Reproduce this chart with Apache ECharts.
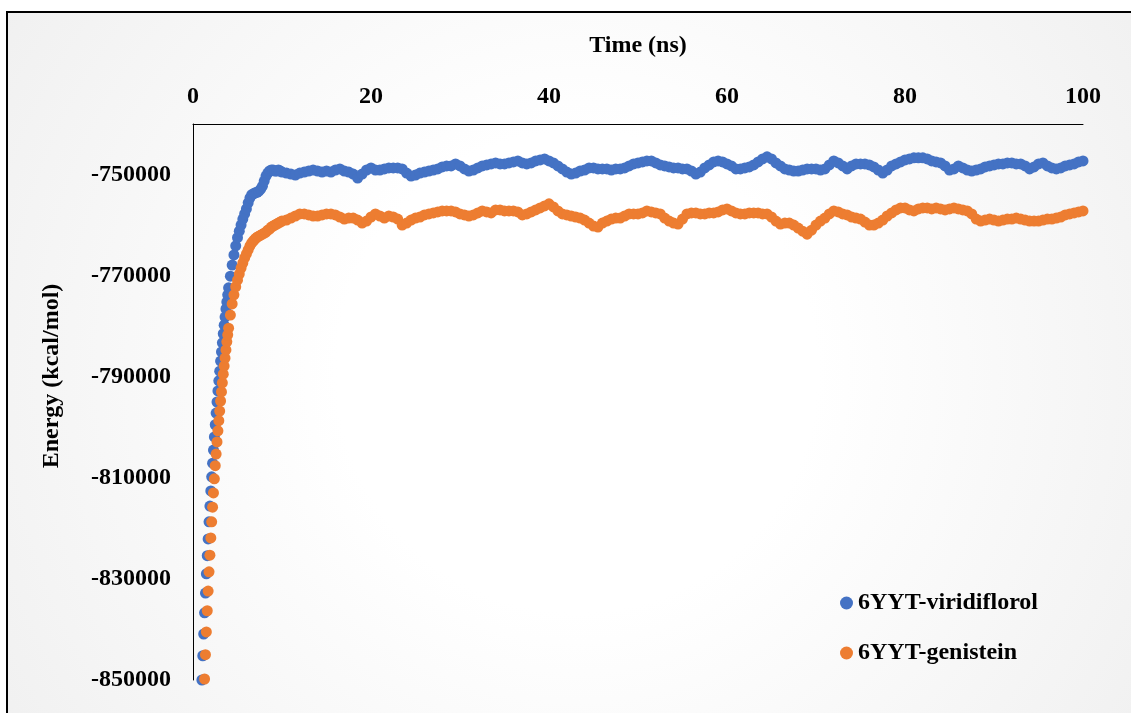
<!DOCTYPE html>
<html>
<head>
<meta charset="utf-8">
<script src="https://cdn.jsdelivr.net/npm/echarts@6/dist/echarts.min.js"></script>
<style>html,body{margin:0;padding:0;background:#fff;}#chart{width:1131px;height:713px;}</style>
</head>
<body>
<div id="chart"></div>
<script>
// Time (ns)
const timeNs = [
  1.0,1.1,1.2,1.3,1.4,1.5,1.6,1.7,1.8,1.9,2.0,2.1,2.2,2.3,2.4,2.5,2.6,2.7,2.8,2.9,3.0,3.1,3.2,3.3,3.4,3.5,3.6,3.7,3.8,3.9,4.0,
  4.2,4.4,4.6,4.8,5.0,5.2,5.4,5.6,5.8,6.0,6.2,6.4,6.6,6.8,7.0,7.2,7.4,7.6,7.8,8.0,8.2,8.4,8.6,8.8,9.0,9.2,9.4,9.6,9.8,10.0,
  10.5,11,11.5,12,12.5,13,13.5,14,14.5,15,
  15.5,16,16.5,17,17.5,18,18.5,19,19.5,20,
  20.5,21,21.5,22,22.5,23,23.5,24,24.5,25,
  25.5,26,26.5,27,27.5,28,28.5,29,29.5,30,
  30.5,31,31.5,32,32.5,33,33.5,34,34.5,35,
  35.5,36,36.5,37,37.5,38,38.5,39,39.5,40,
  40.5,41,41.5,42,42.5,43,43.5,44,44.5,45,
  45.5,46,46.5,47,47.5,48,48.5,49,49.5,50,
  50.5,51,51.5,52,52.5,53,53.5,54,54.5,55,
  55.5,56,56.5,57,57.5,58,58.5,59,59.5,60,
  60.5,61,61.5,62,62.5,63,63.5,64,64.5,65,
  65.5,66,66.5,67,67.5,68,68.5,69,69.5,70,
  70.5,71,71.5,72,72.5,73,73.5,74,74.5,75,
  75.5,76,76.5,77,77.5,78,78.5,79,79.5,80,
  80.5,81,81.5,82,82.5,83,83.5,84,84.5,85,
  85.5,86,86.5,87,87.5,88,88.5,89,89.5,90,
  90.5,91,91.5,92,92.5,93,93.5,94,94.5,95,
  95.5,96,96.5,97,97.5,98,98.5,99,99.5,100
];

// Energy (kcal/mol) - 6YYT-viridiflorol
const viridiflorol = [
  -850000,-845200,-840900,-836700,-832800,-829000,-825400,-822100,-818700,-815600,-812600,-809800,-807100,-804500,-801900,-799500,-797200,-795000,-792800,-790800,-788900,-786900,-785100,-783300,-781500,-779800,-778200,-776600,-775200,-773800,-772400,
  -770100,-767900,-765900,-764100,-762500,-761200,-760000,-758800,-757800,-756800,-755600,-754600,-754000,-753800,-753600,-753500,-753300,-752900,-752300,-751300,-750300,-749700,-749300,-749100,-749100,-749300,-749300,-749100,-749300,-749500,
  -749700,-749900,-750100,-749700,-749500,-749300,-749100,-749300,-749500,-749300,
  -749500,-749100,-748900,-749300,-749500,-749900,-750700,-749900,-749100,-748700,
  -749100,-749100,-748900,-748700,-748700,-748700,-748900,-749700,-750300,-750100,
  -749700,-749500,-749300,-749100,-748900,-748500,-748300,-748300,-747900,-748300,
  -748900,-749300,-749100,-748700,-748300,-748100,-747900,-747700,-747900,-747900,
  -747700,-747500,-747300,-747700,-747900,-747700,-747300,-747100,-746900,-747300,
  -747700,-748300,-748900,-749500,-749900,-749700,-749300,-749100,-748700,-748700,
  -748900,-748900,-748900,-749100,-748900,-748900,-748700,-748300,-747900,-747700,
  -747500,-747300,-747300,-747700,-748100,-748300,-748500,-748700,-748700,-748900,
  -748900,-749300,-749900,-749500,-748700,-748100,-747500,-747300,-747500,-747900,
  -748300,-748900,-748900,-748700,-748500,-748100,-747500,-746900,-746500,-746900,
  -747700,-748300,-748900,-749100,-749300,-749300,-749100,-748900,-748900,-748900,
  -749100,-748900,-748100,-747300,-747700,-748300,-748900,-748300,-747900,-747900,
  -747900,-748100,-748500,-749100,-749700,-749100,-748300,-747900,-747500,-747100,
  -746900,-746700,-746700,-746700,-746900,-747300,-747500,-747700,-748300,-749100,
  -748900,-748300,-748700,-749100,-749300,-749100,-748900,-748500,-748300,-748100,
  -747900,-747900,-747700,-747700,-747900,-747900,-748300,-748900,-748500,-747900,
  -747700,-748300,-748700,-748900,-748700,-748300,-748100,-747900,-747500,-747300
];

// Energy (kcal/mol) - 6YYT-genistein (first samples lie below the axis range)
const genistein = [
  null,null,null,-849800,-845000,-840500,-836300,-832400,-828600,-825300,-821900,-818700,-815800,-813000,-810200,-807600,-805300,-802900,-800700,-798700,-796800,-794800,-793000,-791200,-789500,-787900,-786300,-784700,-783100,-781700,-780400,
  -777800,-775600,-773800,-772200,-770900,-769700,-768500,-767500,-766500,-765700,-764900,-764100,-763500,-763100,-762700,-762400,-762200,-762000,-761800,-761600,-761400,-761000,-760800,-760400,-760200,-760000,-759800,-759600,-759400,-759200,
  -759000,-758600,-758200,-757800,-757800,-758000,-758200,-758200,-758000,-757800,
  -757800,-758000,-758400,-758800,-758600,-758600,-759000,-759600,-759200,-758400,
  -757800,-758200,-758600,-758200,-758400,-758800,-760000,-759600,-759000,-758600,
  -758400,-758000,-757800,-757600,-757400,-757200,-757200,-757200,-757400,-757800,
  -758000,-758200,-758000,-757600,-757200,-757400,-757600,-757000,-757000,-757200,
  -757200,-757200,-757400,-758000,-757800,-757400,-757000,-756600,-756200,-755800,
  -756400,-757200,-757800,-758000,-758200,-758400,-758600,-759000,-759600,-760200,
  -760400,-759600,-759200,-758800,-758600,-758600,-758200,-757800,-757800,-757800,
  -757600,-757200,-757400,-757600,-757800,-758600,-759200,-759600,-759800,-758800,
  -757800,-757600,-757600,-757800,-757800,-757600,-757600,-757400,-757000,-756800,
  -757200,-757600,-757800,-757800,-757600,-757600,-757600,-757800,-757800,-758400,
  -759200,-759800,-759600,-759600,-760000,-760600,-761200,-761800,-761000,-760000,
  -759200,-758600,-757800,-757200,-757400,-757800,-758000,-758400,-758600,-758800,
  -759400,-760000,-760000,-759600,-759000,-758200,-757600,-757000,-756600,-756600,
  -757000,-757200,-756800,-756600,-756600,-756800,-756600,-756800,-757000,-756800,
  -756600,-756800,-757000,-757200,-757800,-758800,-759200,-759000,-758800,-759000,
  -759200,-759000,-758800,-758800,-758600,-758800,-759000,-759200,-759200,-759200,
  -759000,-758800,-758800,-758600,-758400,-758000,-757800,-757600,-757400,-757200
];

const seriesNames = ['6YYT-viridiflorol', '6YYT-genistein'];
const yTickValues = [-850000, -830000, -810000, -790000, -770000, -750000];
const xAxisTitle = 'Time (ns)';
const yAxisTitle = 'Energy (kcal/mol)';

const FONT = "'Times New Roman', 'Liberation Serif', serif";
const FS = 24;

const pairs = (ys) => timeNs.map((t, i) => [t, ys[i]]).filter(p => p[1] !== null);

const chart = echarts.init(document.getElementById('chart'), null, {renderer: 'canvas'});
chart.setOption({
  backgroundColor: '#ffffff',
  animation: false,
  graphic: [
    {
      type: 'rect', z: -10, silent: true,
      shape: {x: 7, y: 12, width: 1140, height: 720},
      style: {
        fill: new echarts.graphic.RadialGradient(0.5, 0.5, 0.95, [
          {offset: 0, color: '#ffffff'},
          {offset: 0.35, color: '#ffffff'},
          {offset: 1, color: '#f0f0f0'}
        ]),
        stroke: '#000000', lineWidth: 2
      }
    },
    {
      type: 'text', z: 10, silent: true,
      x: 52, y: 376, rotation: Math.PI / 2,
      style: {
        text: yAxisTitle, fill: '#000',
        font: 'bold ' + FS + 'px ' + FONT,
        textAlign: 'center', textVerticalAlign: 'middle'
      }
    }
  ],
  grid: {left: 193, right: 48, top: 124, bottom: 33, containLabel: false},
  legend: {
    data: seriesNames,
    orient: 'vertical',
    left: 835, top: 586,
    itemGap: 26,
    itemWidth: 13, itemHeight: 13,
    icon: 'circle',
    textStyle: {fontFamily: FONT, fontWeight: 'bold', fontSize: FS, color: '#000'}
  },
  xAxis: {
    type: 'value', position: 'top',
    min: 0, max: 100, interval: 20,
    name: xAxisTitle, nameLocation: 'middle', nameGap: 66,
    nameTextStyle: {fontFamily: FONT, fontWeight: 'bold', fontSize: FS, color: '#000'},
    axisLine: {show: true, onZero: false, lineStyle: {color: '#000', width: 1}},
    axisTick: {show: false},
    splitLine: {show: false},
    axisLabel: {margin: 15, fontFamily: FONT, fontWeight: 'bold', fontSize: FS, color: '#000'}
  },
  yAxis: {
    type: 'value',
    min: -850000, max: -740000,
    axisLine: {show: true, onZero: false, lineStyle: {color: '#000', width: 1}},
    axisTick: {show: false},
    splitLine: {show: false},
    axisLabel: {
      customValues: yTickValues,
      formatter: (v) => String(v),
      margin: 22, fontFamily: FONT, fontWeight: 'bold', fontSize: FS, color: '#000'
    }
  },
  series: [
    {
      name: seriesNames[0], type: 'scatter', clip: false,
      symbol: 'circle', symbolSize: 11,
      itemStyle: {color: '#4472C4', opacity: 1},
      data: pairs(viridiflorol)
    },
    {
      name: seriesNames[1], type: 'scatter', clip: false,
      symbol: 'circle', symbolSize: 11,
      itemStyle: {color: '#ED7D31', opacity: 1},
      data: pairs(genistein)
    }
  ]
});
</script>
</body>
</html>
